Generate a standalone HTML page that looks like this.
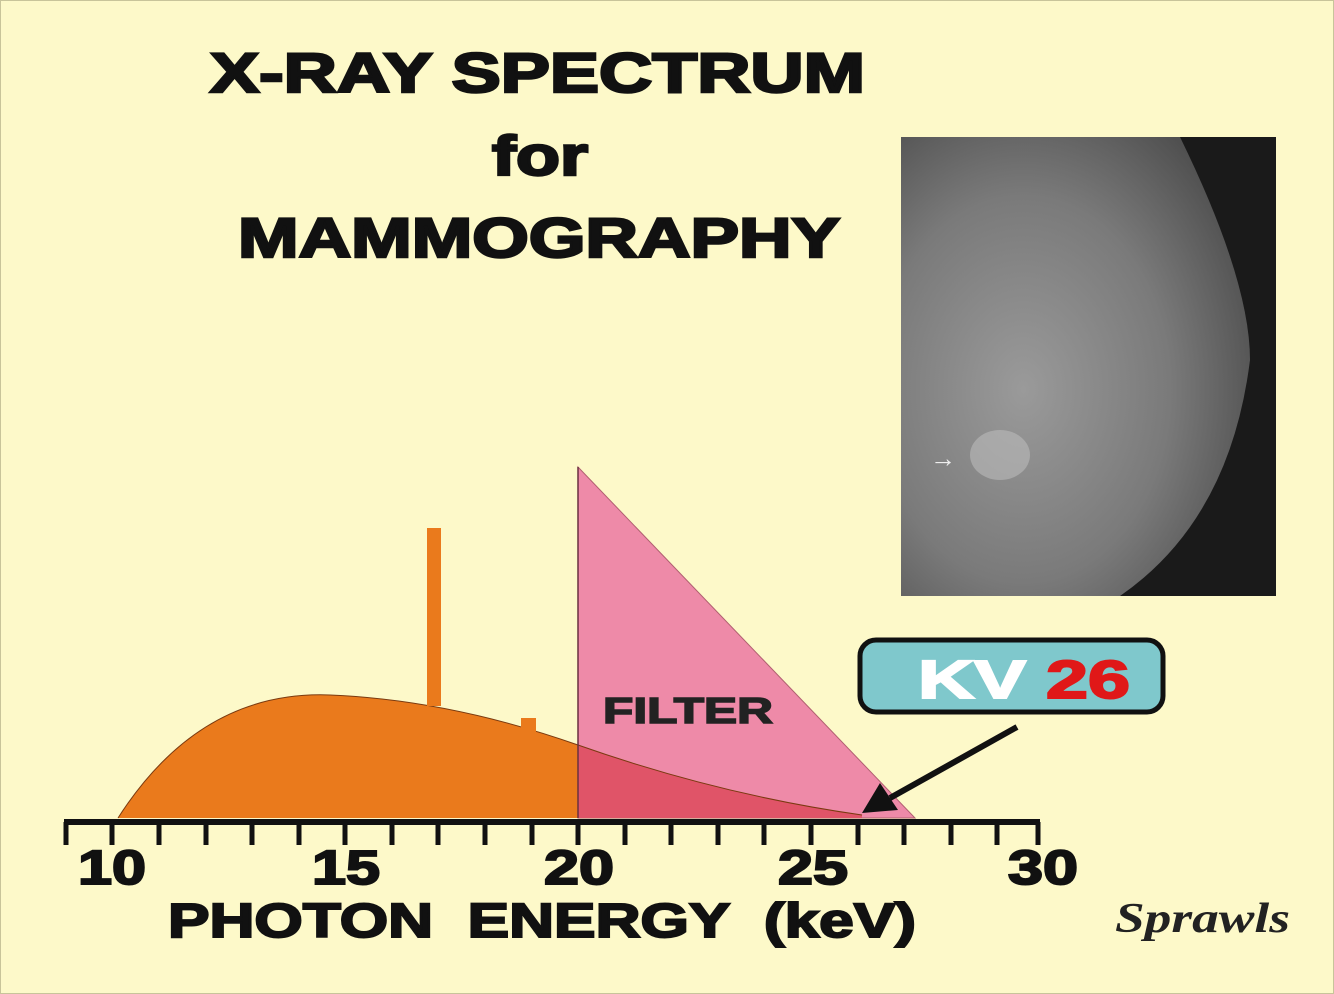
<!DOCTYPE html>
<html><head><style>
body{margin:0;background:#fdf9c9}
svg{display:block}
text{font-family:"Liberation Sans",sans-serif;font-weight:bold}
</style></head><body>
<svg width="1334" height="994" viewBox="0 0 1334 994" xmlns="http://www.w3.org/2000/svg">
<defs>
<radialGradient id="g1" cx="0.35" cy="0.55" r="0.7">
<stop offset="0" stop-color="#9a9a9a"/><stop offset="0.6" stop-color="#7a7a7a"/><stop offset="1" stop-color="#505050"/>
</radialGradient>
</defs>
<rect x="0.5" y="0.5" width="1333" height="993" fill="#fdf9c9" stroke="#c8c49a"/>
<g fill="#111" stroke="#111" stroke-width="2.5" font-size="56" lengthAdjust="spacingAndGlyphs">
<text x="210" y="92" textLength="655" lengthAdjust="spacingAndGlyphs">X-RAY SPECTRUM</text>
<text x="492" y="175" textLength="96" lengthAdjust="spacingAndGlyphs">for</text>
<text x="238" y="257" textLength="602" lengthAdjust="spacingAndGlyphs">MAMMOGRAPHY</text>
</g>
<rect x="901" y="137" width="375" height="459" fill="#1a1a1a"/>
<path d="M901 137 H1180 Q1250 280 1250 360 Q1230 520 1120 596 H901Z" fill="url(#g1)"/>
<ellipse cx="1000" cy="455" rx="30" ry="25" fill="#bbb" opacity="0.6"/>
<text x="930" y="467" font-size="26" fill="#eee">→</text>
<polygon points="578,467 578,818 915,818" fill="#ee8aa8" stroke="#b06070" stroke-width="1"/>
<path d="M118 818 Q200 690 330 695 Q450 700 578 745 L578 818Z" fill="#ea7a1c"/>
<path d="M578 745 Q720 795 862 815 L862 818 L578 818Z" fill="#e05468"/>
<path d="M118 818 Q200 690 330 695 Q450 700 578 745 Q720 795 862 815" fill="none" stroke="#7a3a10" stroke-width="1"/>
<line x1="578" y1="467" x2="578" y2="818" stroke="#6a3040" stroke-width="1.5"/>
<rect x="427" y="528" width="14" height="178" fill="#ea7a1c"/>
<rect x="521" y="718" width="15" height="14" fill="#ea7a1c"/>
<text x="603" y="723" font-size="36" fill="#222" stroke="#222" stroke-width="1.5" textLength="170" lengthAdjust="spacingAndGlyphs">FILTER</text>
<line x1="64" y1="822" x2="1040" y2="822" stroke="#111" stroke-width="6"/>
<g stroke="#111" stroke-width="5">
<line x1="66" y1="822" x2="66" y2="845"/><line x1="112" y1="822" x2="112" y2="845"/><line x1="159" y1="822" x2="159" y2="845"/><line x1="206" y1="822" x2="206" y2="845"/><line x1="252" y1="822" x2="252" y2="845"/><line x1="299" y1="822" x2="299" y2="845"/><line x1="345" y1="822" x2="345" y2="845"/><line x1="392" y1="822" x2="392" y2="845"/><line x1="438" y1="822" x2="438" y2="845"/><line x1="485" y1="822" x2="485" y2="845"/><line x1="532" y1="822" x2="532" y2="845"/><line x1="578" y1="822" x2="578" y2="845"/><line x1="625" y1="822" x2="625" y2="845"/><line x1="671" y1="822" x2="671" y2="845"/><line x1="718" y1="822" x2="718" y2="845"/><line x1="764" y1="822" x2="764" y2="845"/><line x1="811" y1="822" x2="811" y2="845"/><line x1="858" y1="822" x2="858" y2="845"/><line x1="904" y1="822" x2="904" y2="845"/><line x1="951" y1="822" x2="951" y2="845"/><line x1="997" y1="822" x2="997" y2="845"/><line x1="1038" y1="822" x2="1038" y2="845"/>
</g>
<g font-size="48" fill="#111" stroke="#111" stroke-width="2">
<text x="78" y="884" textLength="68" lengthAdjust="spacingAndGlyphs">10</text>
<text x="312" y="884" textLength="68" lengthAdjust="spacingAndGlyphs">15</text>
<text x="544" y="884" textLength="70" lengthAdjust="spacingAndGlyphs">20</text>
<text x="778" y="884" textLength="70" lengthAdjust="spacingAndGlyphs">25</text>
<text x="1008" y="884" textLength="70" lengthAdjust="spacingAndGlyphs">30</text>
</g>
<text x="168" y="937" font-size="48" fill="#111" stroke="#111" stroke-width="2" textLength="748" lengthAdjust="spacingAndGlyphs" xml:space="preserve">PHOTON  ENERGY  (keV)</text>
<rect x="860" y="640" width="303" height="72" rx="16" fill="#7fc8cc" stroke="#111" stroke-width="5"/>
<text x="918" y="698" font-size="54" fill="#fff" stroke="#fff" stroke-width="2" textLength="108" lengthAdjust="spacingAndGlyphs">KV</text>
<text x="1046" y="698" font-size="54" fill="#e01818" stroke="#e01818" stroke-width="2" textLength="84" lengthAdjust="spacingAndGlyphs">26</text>
<line x1="1017" y1="727" x2="890" y2="798" stroke="#111" stroke-width="6"/>
<polygon points="862,813 880,783 898,810" fill="#111"/>
<text x="1115" y="932" font-size="42" font-style="italic" font-weight="normal" style="font-family:'Liberation Serif',serif" fill="#222" textLength="175" lengthAdjust="spacingAndGlyphs">Sprawls</text>
</svg>
</body></html>
